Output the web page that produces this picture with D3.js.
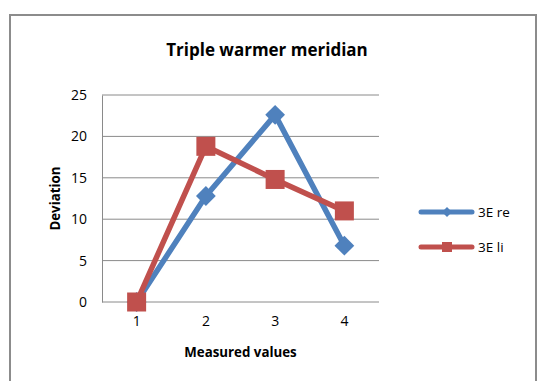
<!DOCTYPE html>
<html>
<head>
<meta charset="utf-8">
<script src="https://cdn.jsdelivr.net/npm/d3@7"></script>
<style>
  body { margin: 0; background: #fff; }
  text { font-family: "Open Sans", "DejaVu Sans", sans-serif; }
</style>
</head>
<body>
<svg id="chart" width="537" height="381"></svg>
<script>
const categories = ["1", "2", "3", "4"]
const seriesNames = ["3E re", "3E li"]
const reValues = [0, 12.8, 22.6, 6.8]
const liValues = [0, 18.8, 14.8, 11.0]
const yTicks = [0, 5, 10, 15, 20, 25]

const colors = ["#4F81BD", "#C0504D"]
const plot = { left: 102, top: 95, right: 379, bottom: 302 }

const svg = d3.select("#chart")

// outer chart border
svg.append("rect")
  .attr("x", 10).attr("y", 15)
  .attr("width", 526).attr("height", 380)
  .attr("fill", "white")
  .attr("stroke", "#8c8c8c")
  .attr("stroke-width", 2)

const x = d3.scaleBand().domain(categories).range([plot.left, plot.right])
const y = d3.scaleLinear().domain([0, 25]).range([plot.bottom, plot.top])

// gridlines
svg.append("g")
  .selectAll("line")
  .data(yTicks)
  .join("line")
  .attr("x1", plot.left).attr("x2", plot.right)
  .attr("y1", d => y(d)).attr("y2", d => y(d))
  .attr("stroke", "#8a8a8a")
  .attr("stroke-width", 1)

// y axis
const yAxis = svg.append("g")
  .attr("transform", `translate(${plot.left},0)`)
  .call(d3.axisLeft(y).tickValues(yTicks).tickSize(0).tickPadding(15))
yAxis.select(".domain").attr("stroke", "#8a8a8a")
yAxis.selectAll("text").attr("font-size", 14).attr("fill", "#000")
  .style("font-family", '"Open Sans", sans-serif')

// x axis
const xAxis = svg.append("g")
  .attr("transform", `translate(0,${plot.bottom})`)
  .call(d3.axisBottom(x).tickSize(0).tickPadding(14))
xAxis.select(".domain").remove()
xAxis.selectAll("text").attr("font-size", 14).attr("fill", "#000")
  .style("font-family", '"Open Sans", sans-serif')

// titles
svg.append("text")
  .attr("x", 267).attr("y", 56)
  .attr("text-anchor", "middle")
  .attr("font-size", 17).attr("font-weight", "bold")
  .text("Triple warmer meridian")

svg.append("text")
  .attr("x", (plot.left + plot.right) / 2).attr("y", 357)
  .attr("text-anchor", "middle")
  .attr("font-size", 13.3).attr("font-weight", "bold")
  .text("Measured values")

svg.append("text")
  .attr("transform", `translate(60,${(plot.top + plot.bottom) / 2}) rotate(-90)`)
  .attr("text-anchor", "middle")
  .attr("font-size", 13.3).attr("font-weight", "bold")
  .text("Deviation")

const cx = d => x(d) + x.bandwidth() / 2
const line = d3.line().x((d, i) => cx(categories[i])).y(d => y(d))

const allSeries = [reValues, liValues]

allSeries.forEach((vals, s) => {
  svg.append("path")
    .datum(vals)
    .attr("d", line)
    .attr("fill", "none")
    .attr("stroke", colors[s])
    .attr("stroke-width", 5.5)
    .attr("stroke-linejoin", "round")
})

// markers: diamonds for re, squares for li
svg.append("g")
  .selectAll("path")
  .data(reValues)
  .join("path")
  .attr("transform", (d, i) => `translate(${cx(categories[i])},${y(d)}) rotate(45)`)
  .attr("d", "M-7,-7H7V7H-7Z")
  .attr("fill", colors[0])

svg.append("g")
  .selectAll("rect")
  .data(liValues)
  .join("rect")
  .attr("x", (d, i) => cx(categories[i]) - 9.5)
  .attr("y", d => y(d) - 9.5)
  .attr("width", 19).attr("height", 19)
  .attr("fill", colors[1])

// legend
const legend = svg.append("g")
seriesNames.forEach((name, s) => {
  const ly = 212 + s * 35
  legend.append("line")
    .attr("x1", 421).attr("x2", 472)
    .attr("y1", ly).attr("y2", ly)
    .attr("stroke", colors[s])
    .attr("stroke-width", 5)
    .attr("stroke-linecap", "round")
  if (s === 0) {
    legend.append("path")
      .attr("transform", `translate(447,${ly}) rotate(45)`)
      .attr("d", "M-3.5,-3.5H3.5V3.5H-3.5Z")
      .attr("fill", colors[0])
  } else {
    legend.append("rect")
      .attr("x", 442).attr("y", ly - 5)
      .attr("width", 10).attr("height", 10)
      .attr("fill", colors[1])
  }
  legend.append("text")
    .attr("x", 478).attr("y", ly + 5)
    .attr("font-size", 13.5)
    .text(name)
})
</script>
</body>
</html>
